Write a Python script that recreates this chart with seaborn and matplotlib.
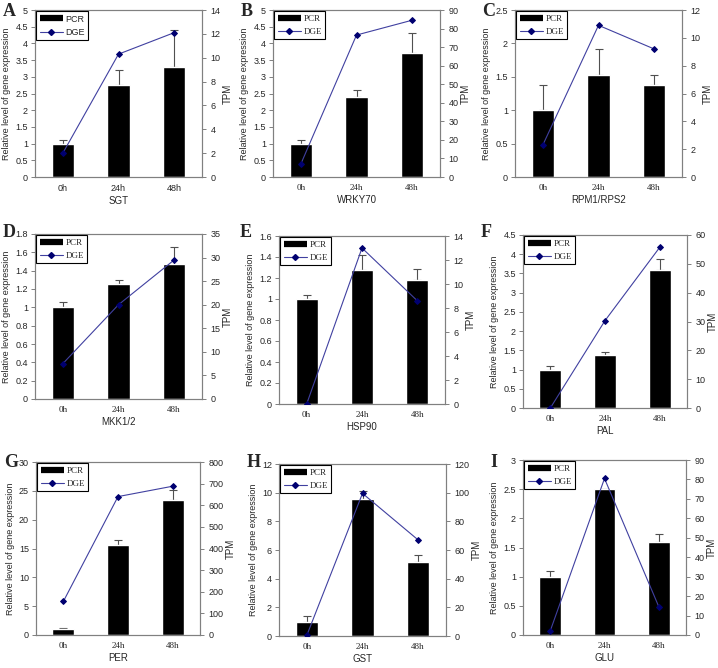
import numpy as np
import matplotlib
matplotlib.use('Agg')
import matplotlib.pyplot as plt
import seaborn as sns
from matplotlib.lines import Line2D

# --- data ---
GENES   = ['SGT', 'WRKY70', 'RPM1/RPS2', 'MKK1/2', 'HSP90', 'PAL', 'PER', 'GST', 'GLU']
LETTERS = ['A', 'B', 'C', 'D', 'E', 'F', 'G', 'H', 'I']
TIMES   = ['0h', '24h', '48h']

PCR_MEAN = [[1.0, 2.75, 3.3], [1.0, 2.4, 3.7], [1.0, 1.53, 1.37],
            [1.0, 1.25, 1.47], [1.0, 1.28, 1.18], [1.0, 1.37, 3.6],
            [1.0, 15.6, 23.4], [1.0, 9.55, 5.15], [1.0, 2.5, 1.6]]
PCR_ERR  = [[0.12, 0.45, 1.1], [0.1, 0.2, 0.6], [0.37, 0.39, 0.16],
            [0.06, 0.05, 0.19], [0.04, 0.14, 0.11], [0.1, 0.08, 0.28],
            [0.2, 0.9, 1.8], [0.4, 0.6, 0.5], [0.1, 0.0, 0.13]]
DGE_TPM  = [[2.0, 10.3, 12.1], [7, 76.5, 84.5], [2.3, 10.9, 9.2],
            [7.5, 20, 29.5], [0, 13, 8.6], [0, 30.3, 55.7],
            [155, 640, 688], [0.5, 99.5, 67], [2, 80.5, 14.5]]

Y1_MAX  = [5, 5, 2.5, 1.8, 1.6, 4.5, 30, 12, 3]
Y1_STEP = [0.5, 0.5, 0.5, 0.2, 0.2, 0.5, 5, 2, 0.5]
Y2_MAX  = [14, 90, 12, 35, 14, 60, 800, 120, 90]
Y2_STEP = [2, 10, 2, 5, 2, 10, 100, 20, 10]

# --- layout (pixels: left, right, top, bottom) ---
W, H = 718, 668
BOXES = [(35, 202, 10, 177), (273, 440, 10, 177), (515, 682, 10, 177),
         (35, 202, 234, 399), (279, 445, 236, 404), (523, 687, 235, 408),
         (36, 200, 462, 635), (279, 446, 464, 636), (523, 686, 460, 635)]
LETTER_XY = [(3, 3), (241, 3), (482, 3),
             (3, 224), (240, 224), (481, 224),
             (4, 454), (247, 454), (490, 454)]

sns.set_style('white')
SANS = ['Liberation Sans', 'DejaVu Sans']
SERIF = ['Liberation Serif', 'DejaVu Serif']
plt.rcParams['font.family'] = SANS

BAR_C = 'black'
LINE_C = '#4040a0'
MARK_C = '#000070'
SPINE_C = '#808080'
FS = 6.5

fig = plt.figure(figsize=(W / 100, H / 100), dpi=100)

for i in range(9):
    l, r, t, b = BOXES[i]
    ax = fig.add_axes([l / W, 1 - b / H, (r - l) / W, (b - t) / H])
    tick_font = SANS if i == 0 else SERIF

    sns.barplot(x=TIMES, y=PCR_MEAN[i], color=BAR_C, width=0.4,
                saturation=1, errorbar=None, ax=ax, zorder=2)
    ax.errorbar(range(3), PCR_MEAN[i], yerr=[np.zeros(3), PCR_ERR[i]],
                fmt='none', ecolor='#505050', elinewidth=0.8,
                capsize=3, capthick=0.8, zorder=1)

    ax.set_xlim(-0.5, 2.5)
    ax.set_ylim(0, Y1_MAX[i])
    ax.set_yticks(np.arange(0, Y1_MAX[i] + Y1_STEP[i] / 2, Y1_STEP[i]))
    ax.set_yticklabels(['%g' % v for v in ax.get_yticks()], fontsize=FS,
                       family=SANS)
    ax.set_xticks(range(3))
    ax.set_xticklabels(TIMES, fontsize=FS, family=tick_font)
    ax.set_xticks([0.5, 1.5], minor=True)
    ax.tick_params(axis='x', which='major', length=0, pad=5)
    ax.tick_params(axis='x', which='minor', length=3, direction='in',
                   color=SPINE_C, width=0.7)
    ax.tick_params(axis='y', length=3, direction='out', color=SPINE_C,
                   width=0.7, pad=2, left=True)
    ax.set_xlabel(GENES[i], fontsize=FS + 0.5, labelpad=2)
    ax.set_ylabel('Relative level of gene expression', fontsize=FS,
                  labelpad=3)
    for s in ax.spines.values():
        s.set_color(SPINE_C)
        s.set_linewidth(0.8)
        s.set_visible(True)

    ax2 = ax.twinx()
    sns.lineplot(x=[0, 1, 2], y=DGE_TPM[i], ax=ax2, color=LINE_C, lw=0.8,
                 marker='D', markersize=3, markerfacecolor=MARK_C,
                 markeredgecolor=MARK_C, sort=False, zorder=3)
    ax2.set_ylim(0, Y2_MAX[i])
    ax2.set_yticks(np.arange(0, Y2_MAX[i] + Y2_STEP[i] / 2, Y2_STEP[i]))
    ax2.set_yticklabels(['%g' % v for v in ax2.get_yticks()], fontsize=FS,
                        family=SANS)
    ax2.tick_params(axis='y', length=3, direction='out', color=SPINE_C,
                    width=0.7, pad=3, right=True)
    ax2.set_ylabel('TPM', fontsize=FS + 0.5, labelpad=2)
    for s in ax2.spines.values():
        s.set_color(SPINE_C)
        s.set_linewidth(0.8)

    handles = [Line2D([], [], color=BAR_C, lw=4.5, solid_capstyle='butt'),
               Line2D([], [], color=LINE_C, lw=0.8, marker='D',
                      markersize=3, markerfacecolor=MARK_C,
                      markeredgecolor=MARK_C)]
    leg = ax2.legend(handles, ['PCR', 'DGE'], loc='upper left',
                     bbox_to_anchor=(0, 1), borderaxespad=0.15,
                     fancybox=False, framealpha=1, edgecolor='black',
                     handlelength=2.6, handletextpad=0.3, borderpad=0.35,
                     labelspacing=0.5,
                     prop={'family': tick_font, 'size': FS})
    leg.get_frame().set_linewidth(0.8)

    fig.text(LETTER_XY[i][0] / W, 1 - LETTER_XY[i][1] / H, LETTERS[i],
             family=SERIF, fontweight='bold', fontsize=13, va='top',
             ha='left')

fig.savefig('out.png', dpi=100)
